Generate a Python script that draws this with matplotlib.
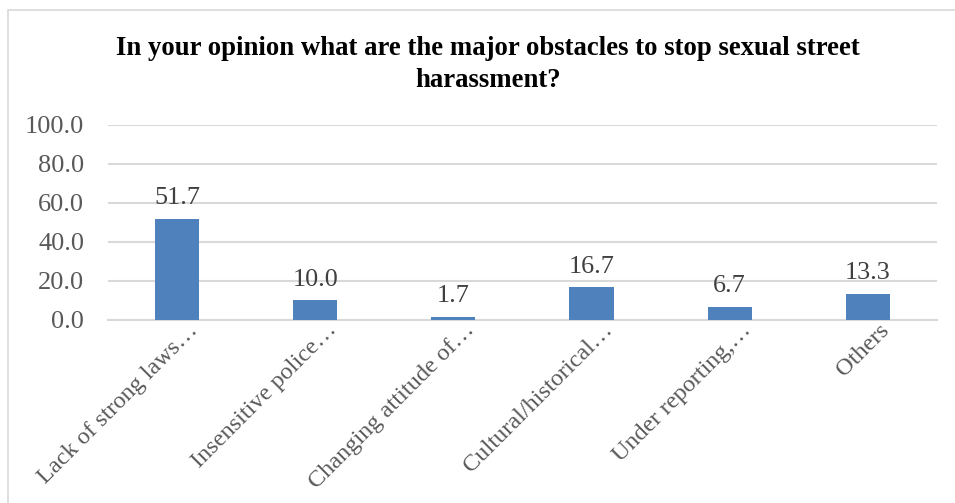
import matplotlib.pyplot as plt
from matplotlib.patches import Rectangle
from matplotlib.transforms import ScaledTranslation

categories = [
    "Lack of strong laws\u2026",
    "Insensitive police\u2026",
    "Changing attitude of\u2026",
    "Cultural/historical\u2026",
    "Under reporting,\u2026",
    "Others",
]
percent = [51.7, 10.0, 1.7, 16.7, 6.7, 13.3]
y_ticks = [0, 20, 40, 60, 80, 100]

plt.rcParams["font.family"] = ["Liberation Serif", "DejaVu Serif"]

fig = plt.figure(figsize=(9.55, 5.03), dpi=100)
ax = fig.add_axes([0.113, 0.364, 0.868, 0.388])

# chart frame (light border on top and left)
fig.patches.append(Rectangle((8 / 955, -0.1), 1.1, 1 - 10 / 503 + 0.1,
                             transform=fig.transFigure, fill=False,
                             edgecolor="#d9d9d9", linewidth=1.2))

x = list(range(len(categories)))
ax.bar(x, percent, width=0.32, color="#4f81bd", zorder=3)
for xi, v in zip(x, percent):
    ax.annotate(f"{v:.1f}", (xi, v), xytext=(0, 7), textcoords="offset points",
                ha="center", va="bottom", fontsize=18.8, color="#404040")

ax.set_xlim(-0.5, len(categories) - 0.5)
ax.set_ylim(0, 100)
ax.set_yticks(y_ticks)
ax.set_yticklabels([f"{t:.1f}" for t in y_ticks], fontsize=19, color="#595959")
ax.yaxis.grid(True, color="#d9d9d9", linewidth=1.5, zorder=0)
ax.tick_params(axis="both", length=0)
ax.tick_params(axis="y", pad=17)
for s in ["top", "right", "left"]:
    ax.spines[s].set_visible(False)
ax.spines["bottom"].set_color("#d9d9d9")
ax.spines["bottom"].set_linewidth(1.5)

ax.set_xticks(x)
ax.set_xticklabels(categories, rotation=45, ha="right", va="center",
                   rotation_mode="anchor", fontsize=17.5, color="#595959")
ax.tick_params(axis="x", pad=0)
shift = ScaledTranslation(18 / 100, -7 / 100, fig.dpi_scale_trans)
for lbl in ax.get_xticklabels():
    lbl.set_transform(lbl.get_transform() + shift)

fig.text(0.511, 0.903, "In your opinion what are the major obstacles to stop sexual street",
         ha="center", va="center", fontsize=19.3, fontweight="bold", color="black")
fig.text(0.511, 0.840, "harassment?", ha="center", va="center",
         fontsize=19.3, fontweight="bold", color="black")

fig.savefig("out.png", dpi=100, facecolor="white")
